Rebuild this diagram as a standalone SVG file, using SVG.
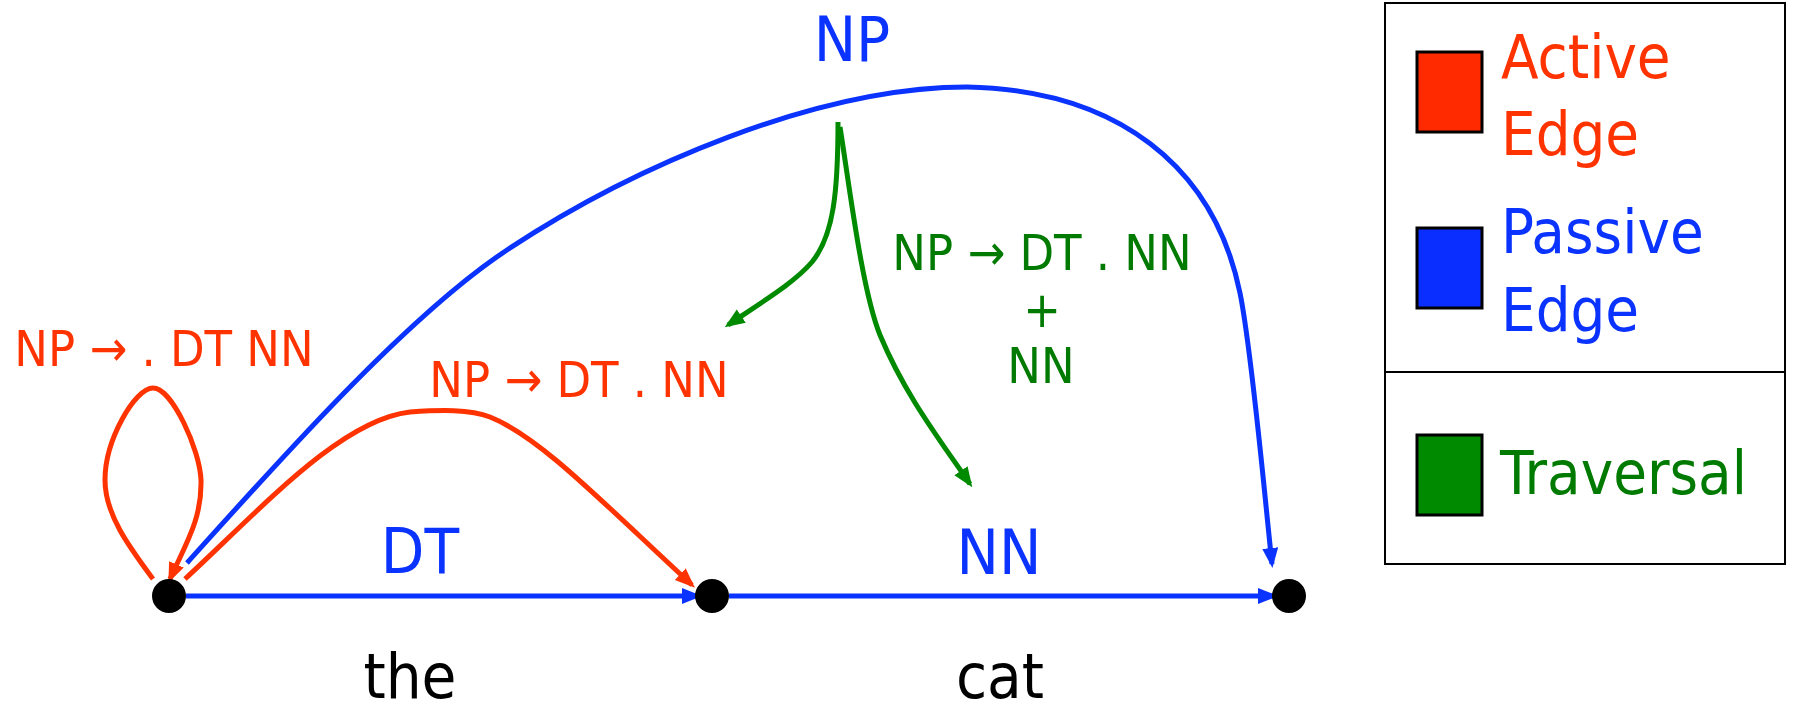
<svg xmlns="http://www.w3.org/2000/svg" width="1794" height="707" viewBox="0 0 1794 707">
<style>
text{font-family:"DejaVu Sans Condensed","DejaVu Sans",sans-serif;font-stretch:condensed}
.big{font-size:63px}
.mid{font-size:50px}
.leg{font-size:61px}
.red{fill:#FF3300}
.blue{fill:#0A33FF}
.green{fill:#007A00}
.blk{fill:#000}
.e{fill:none;stroke-width:5}
.ea{stroke:#FF3300}
.ep{stroke:#0A33FF}
.et{stroke:#008A00}
</style>
<defs>
<marker id="ar" markerUnits="userSpaceOnUse" markerWidth="22" markerHeight="18" refX="16" refY="8" orient="auto"><path d="M0,0 L20,8 L0,16 Z" fill="#FF3300"/></marker>
<marker id="ab" markerUnits="userSpaceOnUse" markerWidth="22" markerHeight="18" refX="16" refY="8" orient="auto"><path d="M0,0 L20,8 L0,16 Z" fill="#0A33FF"/></marker>
<marker id="ag" markerUnits="userSpaceOnUse" markerWidth="22" markerHeight="18" refX="16" refY="8" orient="auto"><path d="M0,0 L20,8 L0,16 Z" fill="#008A00"/></marker>
</defs>
<rect width="1794" height="707" fill="#fff"/>
<g id="connectors">
<path class="e ep" d="M186,596 L698,596" marker-end="url(#ab)"/>
<path class="e ep" d="M729,596 L1274,596" marker-end="url(#ab)"/>
<path class="e ep" d="M187,563 C277,463 407,316 507,250 C632,167 817,87 967,87 C1117,90 1214,166 1240,293 C1252,352 1265,500 1272,564" marker-end="url(#ab)"/>
<path class="e ea" d="M153,579 C130,548 105,515 105,480 C105,440 135,388 153,388 C172,388 200,450 201,480 C202,520 185,545 170,579" marker-end="url(#ar)"/>
<path class="e ea" d="M185,579 C260,510 340,420 410,412 C440,410 470,409 490,417 C540,437 600,500 692,585" marker-end="url(#ar)"/>
<path class="e et" d="M838,122 C838,190 834,235 812,262 C795,282 765,300 728,325" marker-end="url(#ag)"/>
<path class="e et" d="M840,127 C850,190 862,290 880,335 C905,395 940,440 970,484" marker-end="url(#ag)"/>
</g>
<g id="node-0"><circle cx="169" cy="596" r="17" fill="#000"/></g>
<g id="node-1"><circle cx="712" cy="596" r="17" fill="#000"/></g>
<g id="node-2"><circle cx="1289" cy="596" r="17" fill="#000"/></g>
<g id="labels">
<text class="big blue" x="852" y="61" text-anchor="middle">NP</text>
<text class="big blue" x="420" y="573" text-anchor="middle">DT</text>
<text class="big blue" x="999" y="574" text-anchor="middle">NN</text>
<text class="big blk" x="410" y="698" text-anchor="middle">the</text>
<text class="big blk" x="1000" y="698" text-anchor="middle">cat</text>
<text class="mid red" x="164" y="366" text-anchor="middle">NP → . DT NN</text>
<text class="mid red" x="579" y="397" text-anchor="middle">NP → DT . NN</text>
<text class="mid green" x="1042" y="270" text-anchor="middle">NP → DT . NN</text>
<text class="mid green" x="1042" y="327" text-anchor="middle">+</text>
<text class="mid green" x="1041" y="383" text-anchor="middle">NN</text>
</g>
<g id="legend">
<rect x="1385" y="3" width="400" height="561" fill="none" stroke="#000" stroke-width="2"/>
<line x1="1385" y1="372" x2="1785" y2="372" stroke="#000" stroke-width="2"/>
<rect x="1417" y="52" width="65" height="80" fill="#FF2A00" stroke="#000" stroke-width="3"/>
<rect x="1417" y="228" width="65" height="80" fill="#0A2EFF" stroke="#000" stroke-width="3"/>
<rect x="1417" y="435" width="65" height="80" fill="#008A00" stroke="#000" stroke-width="3"/>
<text class="leg red" x="1501" y="78">Active</text>
<text class="leg red" x="1501" y="155">Edge</text>
<text class="leg blue" x="1501" y="253">Passive</text>
<text class="leg blue" x="1501" y="331">Edge</text>
<text class="leg green" x="1500" y="494">Traversal</text>
</g>
</svg>
